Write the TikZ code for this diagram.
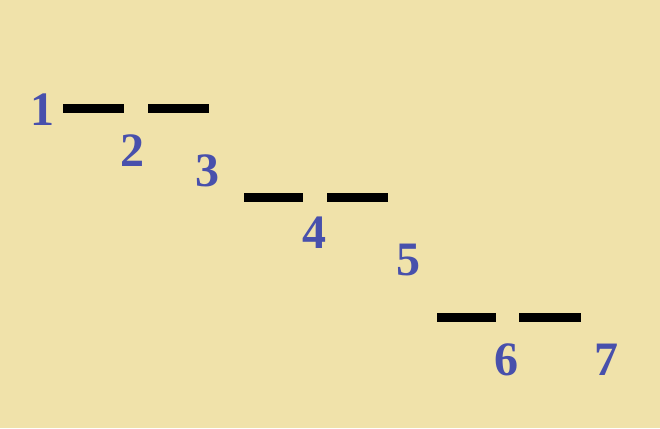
\documentclass[tikz,border=0pt]{standalone}
\usepackage{fontspec}
\setmainfont{Liberation Serif}
\usepackage{xcolor}
\definecolor{paper}{RGB}{240,226,170}
\definecolor{numblue}{RGB}{72,80,172}

\begin{document}
\begin{tikzpicture}[
  x=1pt, y=-1pt,
  num/.style={text=numblue, inner sep=0pt,
              font=\fontsize{48}{48}\selectfont\bfseries},
  bar/.style={line width=9pt, black}
]

% background
\fill[paper] (0,0) rectangle (660,428);
\useasboundingbox (0,0) rectangle (660,428);

% first step
\draw[bar] (63,108) -- (124,108);
\draw[bar] (148,108) -- (209,108);
\node[num] (n1) at (42,110) {1};
\node[num] (n2) at (132,151) {2};
\node[num] (n3) at (207,171) {3};

% second step
\draw[bar] (244,197) -- (303,197);
\draw[bar] (327,197) -- (388,197);
\node[num] (n4) at (314,233) {4};
\node[num] (n5) at (408,260) {5};

% third step
\draw[bar] (437,317) -- (496,317);
\draw[bar] (519,317) -- (581,317);
\node[num] (n6) at (506,360) {6};
\node[num] (n7) at (606,360) {7};

\end{tikzpicture}
\end{document}
